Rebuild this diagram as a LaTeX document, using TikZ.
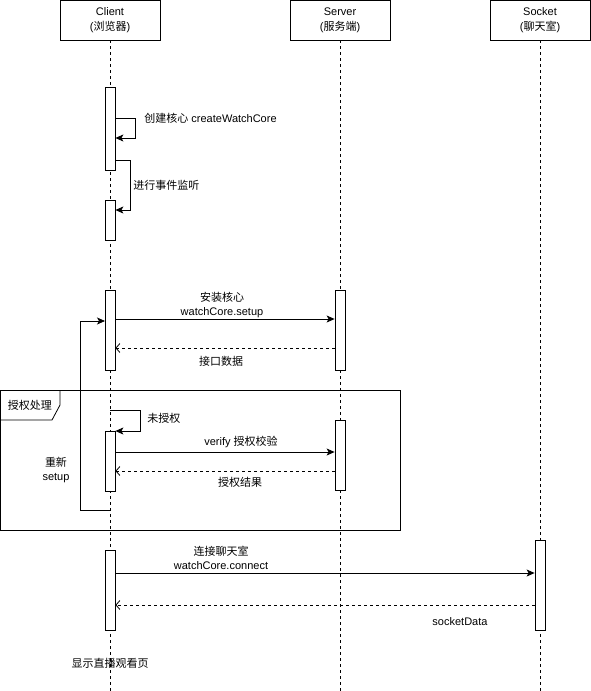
\documentclass[tikz,border=0pt]{standalone}
\usepackage{fontspec}
\setmainfont{Liberation Sans}
\newfontfamily\cjk{Noto Sans CJK SC}
\usetikzlibrary{arrows.meta}
\newcommand\zh[1]{{\cjk #1}}
\newcommand\diagfont{\fontsize{11pt}{14pt}\selectfont}

\begin{document}
\begin{tikzpicture}[x=1pt,y=-1pt,line width=0.8pt,
    actor/.style={draw, minimum width=100pt, minimum height=40pt, align=center, font=\fontsize{11pt}{15pt}\selectfont},
    bar/.style={draw, fill=white, minimum width=10pt, inner sep=0pt, anchor=north},
    life/.style={line width=0.7pt, dash pattern=on 3pt off 3pt},
    msg/.style={-{Stealth[length=8pt,width=7pt,inset=2pt]}},
    ret/.style={dash pattern=on 3pt off 3pt, -{Straight Barb[length=4pt,width=9pt]}},
    lbl/.style={font=\diagfont, align=center, inner sep=1pt}]
    \useasboundingbox (0,0) rectangle (591,691);
    \node[actor] (client) at (110,20) {Client\\(\zh{浏览器})};
    \node[actor] (server) at (340,20) {Server\\(\zh{服务端})};
    \node[actor] (socket) at (540,20) {Socket\\(\zh{聊天室})};
    \foreach \a in {client,server,socket}
        \draw[life] (\a.south) -- (\a.south |- 0,691);
    \draw (0,390) rectangle (400,530);
    \draw (0,420) -- (52,420) -- (60,405) -- (60,390);
    \node[lbl] (auth) at (30,405) {\zh{授权处理}};
    \draw[msg] (client.south |- 0,510) -- (80,510) -- (80,321) -- (105,321);
    \node[lbl] (retry) at (56,470) {\zh{重新}\\setup};
    \node[bar,minimum height=83pt] (cb1) at (110,87) {};
    \node[bar,minimum height=40pt] (cb2) at (110,200) {};
    \node[bar,minimum height=80pt] (cb3) at (110,290) {};
    \node[bar,minimum height=60pt] (cb4) at (110,431) {};
    \node[bar,minimum height=80pt] (cb5) at (110,550) {};
    \node[bar,minimum height=80pt] (sb1) at (340,290) {};
    \node[bar,minimum height=70pt] (sb2) at (340,420) {};
    \node[bar,minimum height=90pt] (kb1) at (540,540) {};
    \draw[msg] (cb1.east |- 0,118) -- (135,118) -- (135,138) -- (cb1.east |- 0,138);
    \node[lbl,anchor=west] (create) at (143,118) {\zh{创建核心} createWatchCore};
    \draw[msg] (cb1.east |- 0,160) -- (130,160) -- (130,210) -- (cb2.east |- 0,210);
    \node[lbl,anchor=west] (listen) at (132,185) {\zh{进行事件监听}};
    \draw[msg] (cb3.east |- 0,319) -- (sb1.west |- 0,319);
    \node[lbl] (setup) at (222,305) {\zh{安装核心}\\watchCore.setup};
    \draw[ret] (sb1.west |- 0,348) -- (cb3.east |- 0,348);
    \node[lbl] (data) at (221,361) {\zh{接口数据}};
    \draw[msg] (client.south |- 0,410) -- (140,410) -- (140,431) -- (cb4.east |- 0,431);
    \node[lbl,anchor=west] (noauth) at (146,418) {\zh{未授权}};
    \draw[msg] (cb4.east |- 0,452) -- (sb2.west |- 0,452);
    \node[lbl] (verify) at (241,442) {verify \zh{授权校验}};
    \draw[ret] (sb2.west |- 0,471) -- (cb4.east |- 0,471);
    \node[lbl] (result) at (240,482) {\zh{授权结果}};
    \draw[msg] (cb5.east |- 0,573) -- (kb1.west |- 0,573);
    \node[lbl] (connect) at (221,558) {\zh{连接聊天室}\\watchCore.connect};
    \draw[ret] (kb1.west |- 0,605) -- (cb5.east |- 0,605);
    \node[lbl] (sdata) at (460,622) {socketData};
    \node[lbl] (show) at (110,663) {\zh{显示直播观看页}};
\end{tikzpicture}
\end{document}
